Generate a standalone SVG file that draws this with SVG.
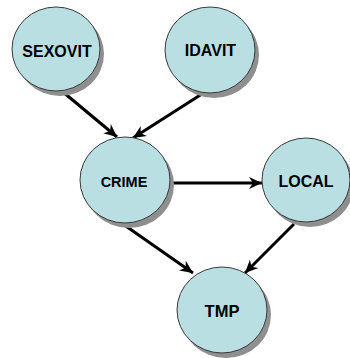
<svg xmlns="http://www.w3.org/2000/svg" width="350" height="358" viewBox="0 0 350 358">
  <defs>
    <marker id="arrow" markerUnits="userSpaceOnUse" markerWidth="14" markerHeight="14" viewBox="0 0 14 14" refX="13" refY="7" orient="auto">
      <path d="M0,1 L13,7 L0,13 L4,7 Z" fill="#000"/>
    </marker>
  </defs>
  <style>
    .shadow { fill: #8f8f8f; }
    .node { fill: #b9dfe3; stroke: #3a3a3a; stroke-width: 1; }
    .label { font-family: "Liberation Sans", Arial, sans-serif; font-weight: bold; fill: #000; text-anchor: middle; }
    .edge { stroke: #000; stroke-width: 3; fill: none; marker-end: url(#arrow); }
  </style>
  <rect width="350" height="358" fill="#fff"/>

  <!-- connectors -->
  <g id="edges">
    <line class="edge" x1="63" y1="92" x2="117" y2="137"/>
    <line class="edge" x1="205" y1="92" x2="133" y2="138"/>
    <line class="edge" x1="170" y1="183" x2="262" y2="183"/>
    <line class="edge" x1="120" y1="222" x2="193" y2="273"/>
    <line class="edge" x1="294" y1="224" x2="245" y2="273"/>
  </g>

  <g id="SEXOVIT">
    <ellipse class="shadow" cx="60" cy="54" rx="44" ry="42"/>
    <ellipse class="node" cx="56" cy="49" rx="44" ry="42"/>
    <text class="label" x="57" y="57" font-size="16">SEXOVIT</text>
  </g>

  <g id="IDAVIT">
    <ellipse class="shadow" cx="214" cy="55" rx="45" ry="43"/>
    <ellipse class="node" cx="210" cy="50" rx="45" ry="43"/>
    <text class="label" x="210.5" y="56" font-size="16">IDAVIT</text>
  </g>

  <g id="CRIME">
    <ellipse class="shadow" cx="129" cy="185" rx="45" ry="43"/>
    <ellipse class="node" cx="125" cy="180" rx="45" ry="43"/>
    <text class="label" x="124" y="187" font-size="14.5">CRIME</text>
  </g>

  <g id="LOCAL">
    <ellipse class="shadow" cx="310" cy="185" rx="44" ry="42"/>
    <ellipse class="node" cx="306" cy="180" rx="44" ry="42"/>
    <text class="label" x="306" y="187" font-size="16">LOCAL</text>
  </g>

  <g id="TMP">
    <ellipse class="shadow" cx="226" cy="315" rx="45" ry="43"/>
    <ellipse class="node" cx="222" cy="310" rx="45" ry="43"/>
    <text class="label" x="222" y="317" font-size="16.5">TMP</text>
  </g>
</svg>
